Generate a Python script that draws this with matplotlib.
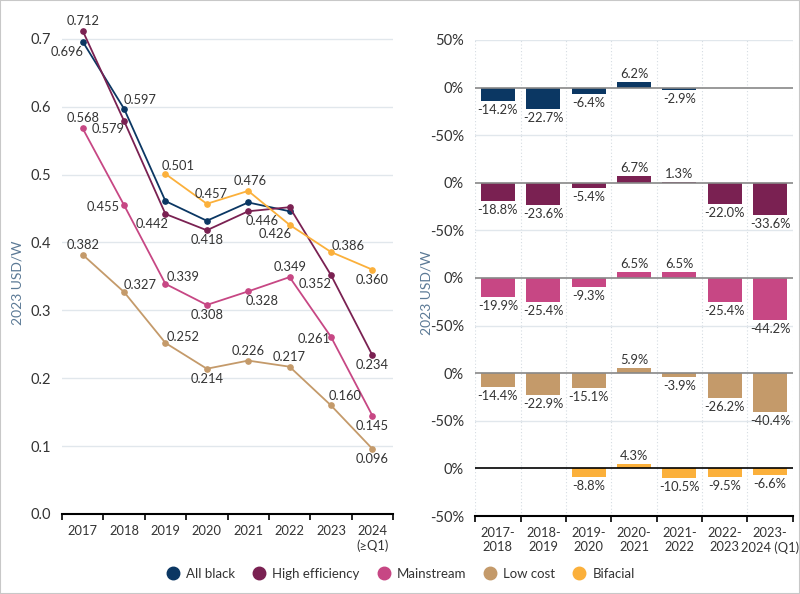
"""Module prices by technology: USD/W levels and year-on-year change."""

import matplotlib.pyplot as plt
import numpy as np
from matplotlib.lines import Line2D
from matplotlib.patches import Rectangle

plt.rcParams["font.family"] = ["Lato", "DejaVu Sans"]

years = ["2017", "2018", "2019", "2020", "2021", "2022", "2023", "2024\n(\u2265Q1)"]
periods = ["2017-\n2018", "2018-\n2019", "2019-\n2020", "2020-\n2021",
           "2021-\n2022", "2022-\n2023", "2023-\n2024 (Q1)"]
series = ["All black", "High efficiency", "Mainstream", "Low cost", "Bifacial"]
colors = ["#0b3763", "#7a2152", "#c74784", "#c49a6a", "#fbb03b"]

nan = np.nan
all_black = [0.696, 0.597, 0.461, 0.432, 0.459, 0.446, nan, nan]
high_eff = [0.712, 0.579, 0.442, 0.418, 0.446, 0.452, 0.352, 0.234]
mainstream = [0.568, 0.455, 0.339, 0.308, 0.328, 0.349, 0.261, 0.145]
low_cost = [0.382, 0.327, 0.252, 0.214, 0.226, 0.217, 0.160, 0.096]
bifacial = [nan, nan, 0.501, 0.457, 0.476, 0.426, 0.386, 0.360]

chg_all_black = [-14.2, -22.7, -6.4, 6.2, -2.9, nan, nan]
chg_high_eff = [-18.8, -23.6, -5.4, 6.7, 1.3, -22.0, -33.6]
chg_mainstream = [-19.9, -25.4, -9.3, 6.5, 6.5, -25.4, -44.2]
chg_low_cost = [-14.4, -22.9, -15.1, 5.9, -3.9, -26.2, -40.4]
chg_bifacial = [nan, nan, -8.8, 4.3, -10.5, -9.5, -6.6]

levels = [all_black, high_eff, mainstream, low_cost, bifacial]
changes = [chg_all_black, chg_high_eff, chg_mainstream, chg_low_cost, chg_bifacial]

# label offsets in pixels (None = no label)
label_offsets = [
    [(-16, -10), (16, 9), None, None, None, None, None, None],
    [(0, 10), (-16, -8), (-13, -10), (0, -10), (14, -10), None, (-16, -9), (0, -10)],
    [(0, 10), (-21, -2), (18, 7), (0, -10), (14, -10), (0, 10), (-17, -2), (0, -10)],
    [(0, 10), (16, 7), (18, 6), (0, -10), (0, 10), (0, 10), (14, 9), (0, -10)],
    [None, None, (13, 8), (4, 10), (2, 10), (-14, -9), (17, 6), (0, -10)],
]

label_color = "#333333"
grid_color = "#e1e7ec"

fig = plt.figure(figsize=(8, 5.94), dpi=100)
fig.add_artist(Rectangle((0, 0), 1, 1, transform=fig.transFigure, fill=False,
                         ec="#c8c8c8", lw=1.5))

# ---- left: price levels ----
ax = fig.add_axes([0.0775, 0.1347, 0.4138, 0.857])
x = np.arange(len(years))
for vals, col, offs in zip(levels, colors, label_offsets):
    ax.plot(x, vals, color=col, lw=1.3, marker="o", ms=3.8, zorder=3)
    for xi, v, off in zip(x, vals, offs):
        if off is None or np.isnan(v):
            continue
        ax.annotate(f"{v:.3f}", (xi, v), xytext=off, textcoords="offset pixels",
                    ha="center", va="center", fontsize=9.3, color=label_color)

ax.set_xlim(-0.5, len(years) - 0.5)
ax.set_ylim(0, 0.75)
ax.set_yticks(np.arange(0, 0.71, 0.1))
ax.set_yticklabels([f"{t:.1f}" for t in np.arange(0, 0.71, 0.1)])
ax.set_xticks(x)
ax.set_xticklabels(years)
ax.set_xticks(np.arange(-0.5, len(years)), minor=True)
ax.tick_params(axis="x", which="major", length=0, pad=8, labelsize=9.3, colors="#333333")
ax.tick_params(axis="x", which="minor", length=4, width=1.2, color="black")
ax.tick_params(axis="y", length=0, pad=8, labelsize=10.5, colors="#333333")
ax.grid(axis="y", color=grid_color, lw=1)
for s in ["top", "right", "left"]:
    ax.spines[s].set_visible(False)
ax.spines["bottom"].set_linewidth(1.5)
ax.set_axisbelow(True)
fig.text(18 / 800, 1 - 283 / 594, "2023 USD/W", rotation=90, ha="center", va="center",
         fontsize=10, color="#5c7a96")

# ---- right: year-on-year change ----
gs = fig.add_gridspec(5, 1, left=0.594, right=0.991, bottom=0.1313, top=0.9327, hspace=0)
px = np.arange(len(periods))
for i, (chg, col) in enumerate(zip(changes, colors)):
    a = fig.add_subplot(gs[i])
    a.set_facecolor("none")
    a.set_zorder(10 - i)
    a.bar(px, chg, width=0.75, color=col, zorder=2)
    for xi, v in zip(px, chg):
        if np.isnan(v):
            continue
        if v < 0:
            a.annotate(f"{v:.1f}%", (xi, v), xytext=(0, -3), textcoords="offset pixels",
                       ha="center", va="top", fontsize=9.3, color=label_color,
                       annotation_clip=False, zorder=5)
        else:
            a.annotate(f"{v:.1f}%", (xi, v), xytext=(0, 2), textcoords="offset pixels",
                       ha="center", va="bottom", fontsize=9.3, color=label_color,
                       annotation_clip=False, zorder=5)
    a.set_xlim(-0.5, len(periods) - 0.5)
    a.set_ylim(-50, 50)
    ticks = [50, 0, -50] if i == 0 else [0, -50]
    a.set_yticks(ticks)
    a.set_yticklabels([f"{t}%" for t in ticks])
    a.tick_params(axis="y", length=0, pad=8, labelsize=10.5, colors="#333333")
    for t in [50, -50]:
        a.axhline(t, color=grid_color, lw=1, zorder=0)
    a.axhline(0, color="black" if i == 4 else "#888888", lw=1.2, zorder=3)
    for b in np.arange(-0.5, len(periods)):
        a.axvline(b, color="#d5dce2", lw=0.8, ls=(0, (1, 2)), zorder=0)
    for s in ["top", "right", "left", "bottom"]:
        a.spines[s].set_visible(False)
    if i < 4:
        a.set_xticks([])
    else:
        a.spines["bottom"].set_visible(True)
        a.spines["bottom"].set_linewidth(1.5)
        a.set_xticks(px)
        a.set_xticklabels(periods)
        a.set_xticks(np.arange(-0.5, len(periods)), minor=True)
        a.tick_params(axis="x", which="major", length=0, pad=8, labelsize=9.3,
                      colors="#333333")
        a.tick_params(axis="x", which="minor", length=4, width=1.2, color="black")
fig.text(427 / 800, 1 - 293 / 594, "2023 USD/W", rotation=90, ha="center", va="center",
         fontsize=10, color="#5c7a96")

handles = [Line2D([], [], ls="none", marker="o", ms=9, color=c) for c in colors]
fig.legend(handles, series, loc="center", bbox_to_anchor=(0.5, 1 - 574 / 594), ncol=5,
           frameon=False, fontsize=9.5, handletextpad=0.4, columnspacing=1.2,
           handlelength=1.2, labelcolor="#333333")

fig.savefig("out.png", dpi=100)
